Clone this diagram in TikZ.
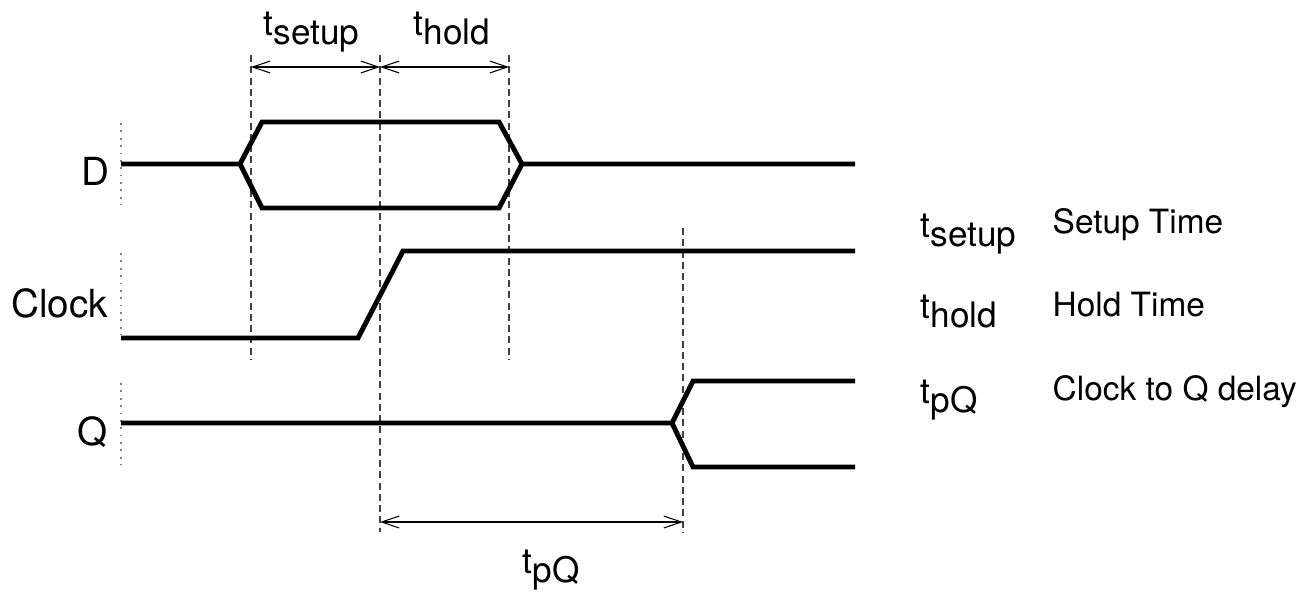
\documentclass[tikz,border=0pt]{standalone}
\usepackage{fontspec}
\setmainfont{TeX Gyre Heros}
\usetikzlibrary{arrows.meta}
\newcommand{\tsub}[1]{t\raisebox{-2.6pt}{#1}}

\begin{document}
\begin{tikzpicture}[x=0.01cm, y=-0.01cm,
        signal/.style={line width=1.4pt, line join=miter},
        guide/.style={line width=0.4pt, dash pattern=on 2pt off 1.2pt, black!75},
        start/.style={line width=0.7pt, dash pattern=on 0.5pt off 1.6pt, black!50},
        span/.style={line width=0.3pt, {Straight Barb[length=5pt,width=3.4pt]}-{Straight Barb[length=5pt,width=3.4pt]}},
        signame/.style={anchor=base east, inner sep=0pt, font=\fontsize{11}{13}\selectfont},
        tlabel/.style={anchor=base west, inner sep=0pt, font=\fontsize{10}{12}\selectfont},
        legend/.style={anchor=base west, inner sep=0pt, font=\fontsize{9.5}{11}\selectfont}]
    \useasboundingbox (0, 0) rectangle (1310, 594);

    \draw[start] (121, 123) -- (121, 205);
    \draw[start] (121, 253) -- (121, 335);
    \draw[start] (121, 383) -- (121, 465);

    \coordinate (setupTop) at (251, 55);
    \coordinate (setupBot) at (251, 360);
    \coordinate (edgeTop) at (380, 55);
    \coordinate (edgeBot) at (380, 532);
    \coordinate (holdTop) at (509, 55);
    \coordinate (holdBot) at (509, 360);
    \coordinate (pqTop) at (683, 228);
    \coordinate (pqBot) at (683, 532);
    \draw[guide] (setupTop) -- (setupBot);
    \draw[guide] (edgeTop) -- (edgeBot);
    \draw[guide] (holdTop) -- (holdBot);
    \draw[guide] (pqTop) -- (pqBot);

    \draw[signal] (121, 164) -- (240, 164) -- (262, 122) -- (499, 122) -- (522, 164) -- (855, 164);
    \draw[signal] (240, 164) -- (262, 208) -- (499, 208) -- (522, 164);
    \draw[signal] (121, 338) -- (358, 338) -- (403, 251) -- (855, 251);
    \draw[signal] (121, 423) -- (672, 423) -- (693, 381) -- (855, 381);
    \draw[signal] (672, 423) -- (693, 467) -- (855, 467);

    \coordinate (setupA) at (251, 67);
    \coordinate (edgeA) at (380, 67);
    \coordinate (holdA) at (509, 67);
    \coordinate (edgeB) at (380, 522);
    \coordinate (pqB) at (683, 522);
    \draw[span] (setupA) -- (edgeA);
    \draw[span] (edgeA) -- (holdA);
    \draw[span] (edgeB) -- (pqB);

    \node[signame] (dname) at (110, 185) {D};
    \node[signame] (clkname) at (109, 317) {Clock};
    \node[signame] (qname) at (108, 445) {Q};

    \node[tlabel] (setuplbl) at (263, 35) {\tsub{setup}};
    \node[tlabel] (holdlbl) at (413, 35) {\tsub{hold}};
    \node[tlabel] (pqlbl) at (522, 573) {\tsub{pQ}};

    \node[tlabel] (setupkey) at (920, 237) {\tsub{setup}};
    \node[tlabel] (holdkey) at (920, 318) {\tsub{hold}};
    \node[tlabel] (pqkey) at (920, 403) {\tsub{pQ}};
    \node[legend] (setuptext) at (1052, 233) {Setup Time};
    \node[legend] (holdtext) at (1052, 316) {Hold Time};
    \node[legend] (pqtext) at (1052, 400) {Clock to Q delay};
\end{tikzpicture}
\end{document}
